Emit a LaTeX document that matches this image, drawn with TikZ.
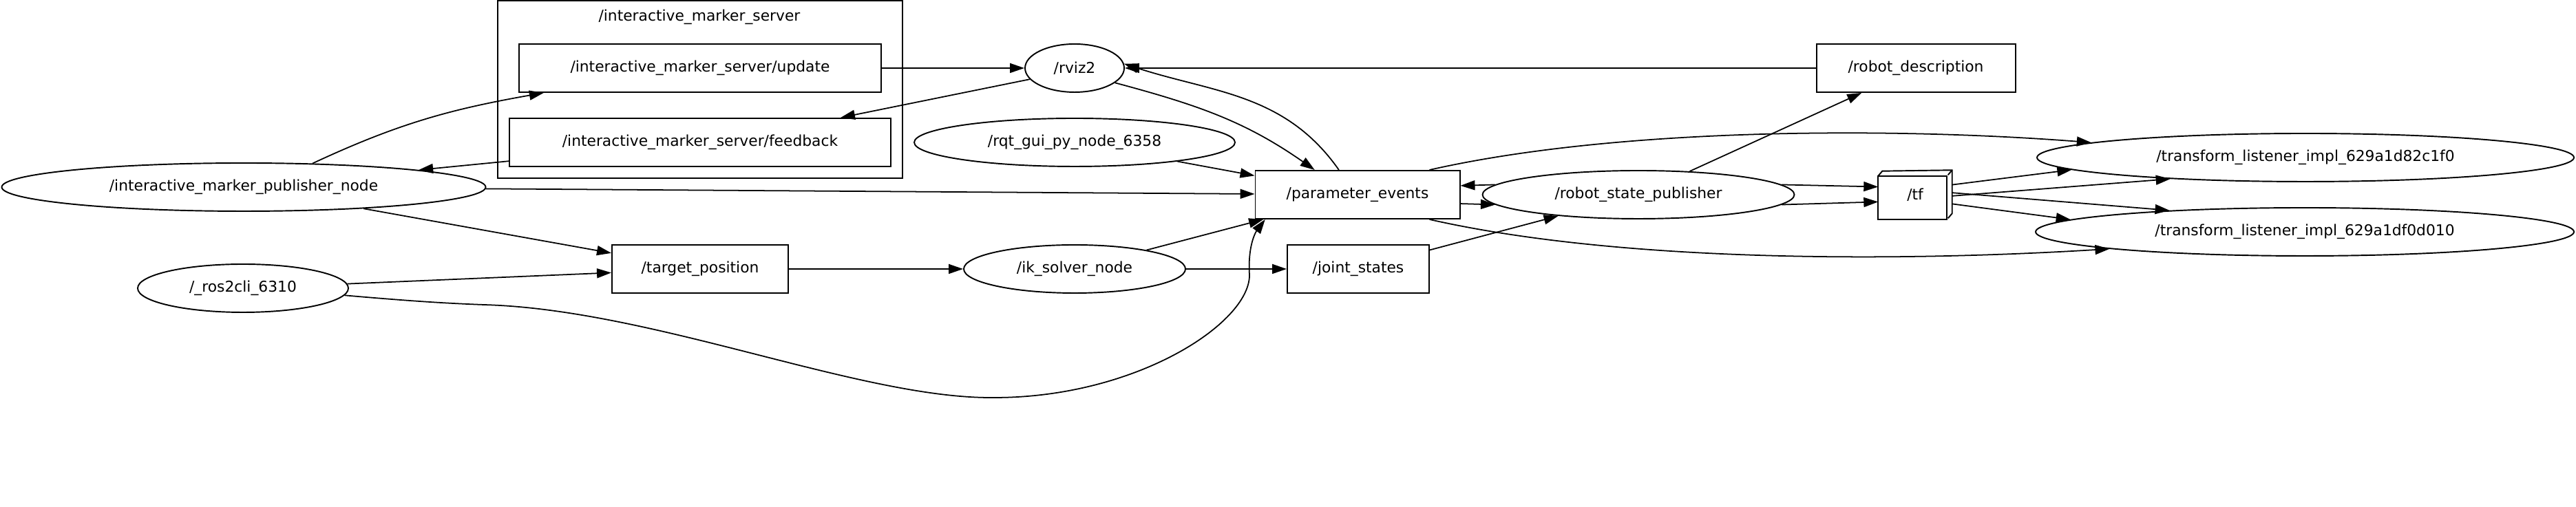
\documentclass[tikz,border=0pt]{standalone}
\usepackage{fontspec}
\setmainfont{DejaVu Sans}
\usetikzlibrary{shapes.geometric,arrows.meta}

\begin{document}
\begin{tikzpicture}[font=\fontsize{6.2}{7}\selectfont]
  % ROS computation graph
  \tikzstyle{topic} = [rectangle, draw, line width=0.55pt, minimum height=0.7cm, inner sep=0pt]
  \tikzstyle{rosnode} = [ellipse, draw, line width=0.55pt, minimum height=0.7cm, inner sep=0pt]
  \tikzstyle{group} = [rectangle, draw, line width=0.5pt, minimum width=5.88cm, minimum height=2.58cm, inner sep=0pt]
  \tikzstyle{link} = [line width=0.5pt, -{Triangle[length=2.1mm,width=1.4mm]}]

  \useasboundingbox (0,0) rectangle (37.42,7.37);

  % Interactive marker server cluster
  \node[group] (srv) at (10.17, 6.07) {};
  \node (srvlabel) at (10.16, 7.12) {/interactive\_marker\_server};
  \node[topic, minimum width=5.26cm] (update) at (10.17, 6.38) {/interactive\_marker\_server/update};
  \node[topic, minimum width=5.54cm] (feedback) at (10.17, 5.30) {/interactive\_marker\_server/feedback};

  % Nodes
  \node[rosnode, minimum width=7.03cm] (impn) at (3.54, 4.65) {/interactive\_marker\_publisher\_node};
  \node[rosnode, minimum width=3.06cm] (ros2cli) at (3.53, 3.18) {/\_ros2cli\_6310};
  \node[rosnode, minimum width=1.44cm] (rviz2) at (15.61, 6.38) {/rviz2};
  \node[rosnode, minimum width=4.66cm] (rqt) at (15.61, 5.30) {/rqt\_gui\_py\_node\_6358};
  \node[rosnode, minimum width=3.22cm] (ik) at (15.61, 3.46) {/ik\_solver\_node};
  \node[rosnode, minimum width=4.53cm] (rsp) at (23.80, 4.54) {/robot\_state\_publisher};
  \node[rosnode, minimum width=7.80cm] (tlone) at (33.49, 5.08) {/transform\_listener\_impl\_629a1d82c1f0};
  \node[rosnode, minimum width=7.82cm] (tltwo) at (33.48, 4.00) {/transform\_listener\_impl\_629a1df0d010};

  % Topics
  \node[topic, minimum width=2.56cm] (target) at (10.17, 3.46) {/target\_position};
  \node[topic, minimum width=2.97cm] (param) at (19.72, 4.54) {/parameter\_events};
  \node[topic, minimum width=2.06cm] (joint) at (19.73, 3.46) {/joint\_states};
  \node[topic, minimum width=2.89cm] (robdesc) at (27.83, 6.38) {/robot\_description};
  \node[minimum width=1.06cm, minimum height=0.7cm, inner sep=0pt] (tf) at (27.82, 4.54) {/tf};
  \draw[line width=0.55pt] (tf.south west) rectangle ++(1.00,0.63);
  \draw[line width=0.55pt] (tf.south west) ++(0,0.63) -- ++(0.06,0.07) -- (tf.north east) -- ++(0,-0.63) -- ++(-0.06,-0.07);
  \draw[line width=0.55pt] (tf.north east) ++(-0.06,-0.07) -- (tf.north east);

  % Connections
  \draw[link] (impn.19) to[out=25, in=190] (update.189);
  \draw[link] (feedback) -- (impn);
  \draw[link] (update) -- (rviz2);
  \draw[link] (rviz2.194) -- (feedback.10);
  \draw[link] (rviz2.-20) to[out=-15, in=145] (param.150);
  \draw[link] (param.127) to[out=125, in=-18] (rviz2.5);
  \draw[link] (robdesc) -- (rviz2);
  \draw[link] (rqt) -- (param);
  \draw[link] (impn) -- (param);
  \draw[link] (impn) -- (target);
  \draw[link] (ros2cli) -- (target);
  \draw[link] (target) -- (ik);
  \draw[link] (ik) -- (param);
  \draw[link] (ik) -- (joint);
  \draw[link] (ros2cli.-4) .. controls (6.00, 2.99) and (6.50, 2.96) .. (7.03, 2.94)
    .. controls (9.50, 2.87) and (12.50, 1.57) .. (14.44, 1.59)
    .. controls (16.50, 1.59) and (18.15, 2.67) .. (18.15, 3.37)
    .. controls (18.12, 3.87) and (18.28, 4.05) .. (param.195);
  \draw[link] (joint) -- (rsp);
  \draw[link] (rsp.176) -- (param.5);
  \draw[link] (param.-5) -- (rsp.184);
  \draw[link] (param.19) .. controls (23.50, 5.52) and (27.50, 5.52) .. (tlone.176);
  \draw[link] (param.-19) .. controls (23.50, 3.56) and (27.50, 3.56) .. (tltwo.185);
  \draw[link] (rsp) -- (robdesc);
  \draw[link] (rsp.4) -- (tf.168);
  \draw[link] (rsp.-4) -- (tf.191);
  \draw[link] (tf.15) -- (tlone.183);
  \draw[link] (tf.-2) -- (tlone.189);
  \draw[link] (tf.3) -- (tltwo.171);
  \draw[link] (tf.-14) -- (tltwo.177);

\end{tikzpicture}
\end{document}
